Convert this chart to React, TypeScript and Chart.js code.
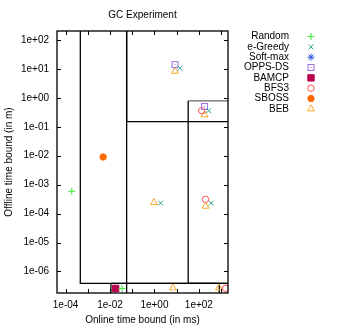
import React, { useEffect, useRef } from 'react';
import { Chart, registerables } from 'chart.js';
import { drawPoint } from 'chart.js/helpers';

Chart.register(...registerables);

// ---- data ----
const seriesNames = ['Random', 'e-Greedy', 'Soft-max', 'OPPS-DS', 'BAMCP', 'BFS3', 'SBOSS', 'BEB'];
const seriesColors = ['#33ee33', '#2aa58a', '#2a4fd8', '#9a6ade', '#b8004c', '#ff4f4f', '#ff6a00', '#ffa628'];

const randomX = [1.9e-4, 0.035];
const randomY = [5.9e-4, 2.6e-7];
const eGreedyX = [14, 275, 1.9, 360];
const eGreedyY = [10.5, 0.36, 2.3e-4, 2.3e-4];
const softmaxX: number[] = [];
const softmaxY: number[] = [];
const oppsX = [8.4, 180];
const oppsY = [14, 0.5];
const bamcpX = [0.018];
const bamcpY = [2.6e-7];
const bfs3X = [135, 200, 1600];
const bfs3Y = [0.36, 3.1e-4, 2.6e-7];
const sbossX = [0.0049];
const sbossY = [0.009];
const bebX = [8.4, 180, 0.95, 200, 6.8, 800];
const bebY = [8.3, 0.26, 2.4e-4, 1.8e-4, 2.7e-7, 2.7e-7];

const xTickExps = [-4, -3, -2, -1, 0, 1, 2, 3];
const xLabelExps = [-4, -2, 0, 2];
const yTickExps = [-6, -5, -4, -3, -2, -1, 0, 1, 2];
const xMin = 4.1e-5;
const xMax = 2050;
const yMin = 1.8e-7;
const yMax = 204;

// region boxes (data coordinates)
const boxX0 = [4.6e-4, 0.056, 33, 0.011];
const boxX1 = [1e6, 1e6, 1e6, 830];
const boxY0 = [3.9e-7, 0.15, 3.9e-7, 1e-12];
const boxY1 = [1e6, 1e6, 0.79, 3.9e-7];
const boxTopGrey = [false, false, true, false];
const boxVSplitX = [0.056];

const FONT = '"Liberation Sans", Arial, Helvetica, sans-serif';

function fmtExp(v: number) {
  const e = Math.round(Math.log10(v));
  const s = e < 0 ? '-' : '+';
  const a = Math.abs(e);
  return '1e' + s + (a < 10 ? '0' + a : String(a));
}

function pairs(xs: number[], ys: number[]) {
  return xs.map((x, i) => ({ x, y: ys[i] }));
}

function makeBoxDot(color: string) {
  const c = document.createElement('canvas');
  c.width = 9;
  c.height = 9;
  const g = c.getContext('2d')!;
  g.strokeStyle = color;
  g.lineWidth = 1;
  g.strokeRect(1.5, 1.5, 6, 6);
  g.fillStyle = color;
  g.fillRect(4, 4, 1, 1);
  return c;
}

export default function App() {
  const ref = useRef<HTMLCanvasElement>(null);

  useEffect(() => {
    document.body.style.margin = '0';
    const canvas = ref.current!;
    const oppsStyle = makeBoxDot(seriesColors[3]);

    const xs = [randomX, eGreedyX, softmaxX, oppsX, bamcpX, bfs3X, sbossX, bebX];
    const ys = [randomY, eGreedyY, softmaxY, oppsY, bamcpY, bfs3Y, sbossY, bebY];
    const styles: any[] = ['cross', 'crossRot', 'star', oppsStyle, 'rect', 'circle', 'circle', 'triangle'];
    const filled = [false, false, false, false, true, false, true, false];
    const radii = [3.5, 3.5, 3.5, 4.5, 4.5, 3.2, 3.2, 4];

    const datasets = seriesNames.map((name, i) => ({
      label: name,
      data: pairs(xs[i], ys[i]),
      pointStyle: styles[i],
      pointRadius: radii[i],
      pointBorderWidth: 1,
      pointBorderColor: seriesColors[i],
      pointBackgroundColor: filled[i] ? seriesColors[i] : 'rgba(0,0,0,0)',
      borderColor: seriesColors[i],
      backgroundColor: filled[i] ? seriesColors[i] : 'rgba(0,0,0,0)',
      showLine: false,
    }));

    const framePlugin = {
      id: 'frame',
      beforeDatasetsDraw(chart: any) {
        const { ctx, chartArea: a, scales } = chart;
        const sx = scales.x, sy = scales.y;
        ctx.save();
        ctx.beginPath();
        ctx.rect(a.left, a.top, a.right - a.left, a.bottom - a.top);
        ctx.clip();
        ctx.lineWidth = 1.3;
        for (let i = 0; i < boxX0.length; i++) {
          const l = sx.getPixelForValue(boxX0[i]);
          const r = sx.getPixelForValue(boxX1[i]);
          const t = sy.getPixelForValue(boxY1[i]);
          const b = sy.getPixelForValue(boxY0[i]);
          ctx.strokeStyle = '#000';
          ctx.beginPath();
          ctx.moveTo(l, t);
          ctx.lineTo(l, b);
          ctx.lineTo(r, b);
          ctx.lineTo(r, t);
          ctx.stroke();
          ctx.strokeStyle = boxTopGrey[i] ? '#666' : '#000';
          ctx.beginPath();
          ctx.moveTo(l, t);
          ctx.lineTo(r, t);
          ctx.stroke();
        }
        ctx.strokeStyle = '#000';
        for (const v of boxVSplitX) {
          const px = sx.getPixelForValue(v);
          ctx.beginPath();
          ctx.moveTo(px, a.top);
          ctx.lineTo(px, a.bottom);
          ctx.stroke();
        }
        ctx.restore();
      },
      afterDatasetsDraw(chart: any) {
        const { ctx, chartArea: a, scales } = chart;
        const sx = scales.x, sy = scales.y;
        ctx.save();
        ctx.strokeStyle = '#000';
        ctx.lineWidth = 1;
        const tl = 4;
        ctx.beginPath();
        for (const e of xTickExps) {
          const px = Math.round(sx.getPixelForValue(Math.pow(10, e))) + 0.5;
          ctx.moveTo(px, a.bottom);
          ctx.lineTo(px, a.bottom - tl);
          ctx.moveTo(px, a.top);
          ctx.lineTo(px, a.top + tl);
        }
        for (const e of yTickExps) {
          const py = Math.round(sy.getPixelForValue(Math.pow(10, e))) + 0.5;
          ctx.moveTo(a.left, py);
          ctx.lineTo(a.left + tl, py);
          ctx.moveTo(a.right, py);
          ctx.lineTo(a.right - tl, py);
        }
        ctx.stroke();
        ctx.lineWidth = 1.3;
        ctx.strokeRect(a.left, a.top, a.right - a.left, a.bottom - a.top);

        // title
        ctx.fillStyle = '#000';
        ctx.font = '10px ' + FONT;
        ctx.textAlign = 'center';
        ctx.textBaseline = 'middle';
        ctx.fillText('GC Experiment', (a.left + a.right) / 2, 15.5);

        // legend
        const lx = a.right + 61;
        const sxp = a.right + 83;
        seriesNames.forEach((name, i) => {
          const y = 36.5 + i * 10.34;
          ctx.fillStyle = '#000';
          ctx.textAlign = 'right';
          ctx.fillText(name, lx, y);
          ctx.strokeStyle = seriesColors[i];
          ctx.fillStyle = filled[i] ? seriesColors[i] : 'rgba(0,0,0,0)';
          ctx.lineWidth = 1;
          drawPoint(ctx, { pointStyle: styles[i], rotation: 0, radius: radii[i], borderWidth: 1 } as any, sxp, y);
        });
        ctx.restore();
      },
    };

    const chart = new Chart(canvas, {
      type: 'scatter',
      data: { datasets: datasets as any },
      options: {
        animation: false,
        responsive: false,
        layout: { padding: { left: 0, top: 31, right: 337 - 228, bottom: 0 } },
        plugins: {
          legend: { display: false },
          title: { display: false },
          tooltip: { enabled: false },
        },
        scales: {
          x: {
            type: 'logarithmic',
            min: xMin,
            max: xMax,
            grid: { display: false, drawTicks: false },
            border: { display: false },
            afterBuildTicks: (s: any) => {
              s.ticks = xTickExps.map((e) => ({ value: Math.pow(10, e) }));
            },
            afterFit: (s: any) => {
              s.height = 34;
            },
            ticks: {
              autoSkip: false,
              maxRotation: 0,
              padding: 6,
              color: '#000',
              font: { family: FONT, size: 10 },
              callback: (v: any) => {
                const e = Math.round(Math.log10(Number(v)));
                return xLabelExps.includes(e) ? fmtExp(Number(v)) : '';
              },
            },
            title: {
              display: true,
              text: 'Online time bound (in ms)',
              color: '#000',
              font: { family: FONT, size: 10 },
              padding: { top: 0, bottom: 1.2 },
            },
          },
          y: {
            type: 'logarithmic',
            min: yMin,
            max: yMax,
            grid: { display: false, drawTicks: false },
            border: { display: false },
            afterBuildTicks: (s: any) => {
              s.ticks = yTickExps.map((e) => ({ value: Math.pow(10, e) }));
            },
            afterFit: (s: any) => {
              s.width = 57;
            },
            ticks: {
              autoSkip: false,
              padding: 8,
              color: '#000',
              font: { family: FONT, size: 10 },
              callback: (v: any) => fmtExp(Number(v)),
            },
            title: {
              display: true,
              text: 'Offline time bound (in m)',
              color: '#000',
              font: { family: FONT, size: 10 },
              padding: { top: 3.3, bottom: 0 },
            },
          },
        },
      },
      plugins: [framePlugin],
    });
    return () => chart.destroy();
  }, []);

  return (
    <div style={{ width: 337, height: 327 }}>
      <canvas ref={ref} width={337} height={327} style={{ display: 'block' }} />
    </div>
  );
}
